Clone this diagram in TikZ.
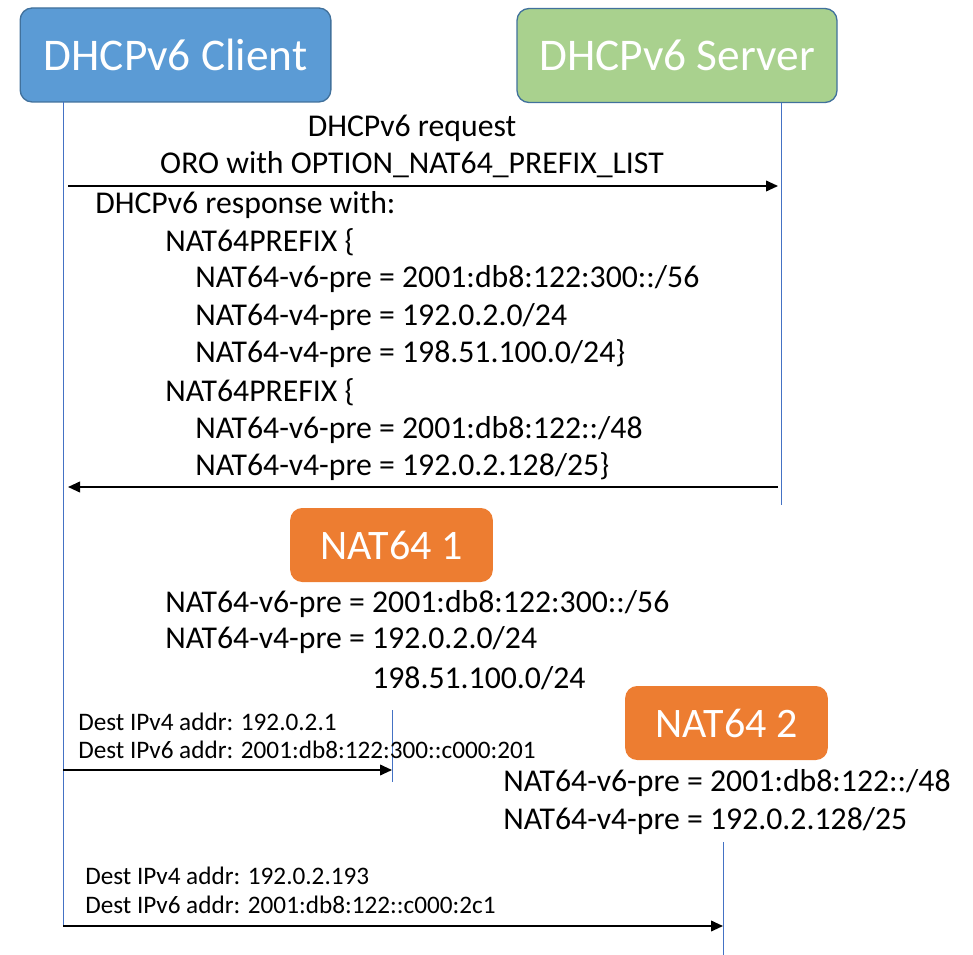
\documentclass[tikz,border=0pt]{standalone}
\usepackage{fontspec}
\setmainfont{Carlito}
\usepackage{xcolor}
\usetikzlibrary{arrows.meta,positioning}

\definecolor{clientblue}{HTML}{5B9BD5}
\definecolor{serverGreen}{HTML}{A9D18E}
\definecolor{natOrange}{HTML}{ED7D31}
\definecolor{edgeBlue}{HTML}{41719C}
\definecolor{lifeBlue}{HTML}{4472C4}

\tikzset{
  actor/.style={rounded corners=9pt, text=white, font=\fontsize{34}{40}\selectfont,
    inner sep=0pt, minimum height=70.5pt},
  natbox/.style={actor, fill=natOrange, draw=none, minimum width=152pt, minimum height=55.5pt,
    font=\fontsize{31.5}{38}\selectfont},
  msg/.style={anchor=west, inner sep=0pt, font=\fontsize{23.8}{28}\selectfont},
  note/.style={anchor=west, inner sep=0pt, font=\fontsize{18.9}{22}\selectfont},
  life/.style={lifeBlue, line width=0.6pt},
  call/.style={-{Triangle[length=9pt,width=8pt]}, line width=1.3pt}
}

\begin{document}
\begin{tikzpicture}[x=0.75pt, y=-0.75pt]
\useasboundingbox (0,0) rectangle (973,955);

% actors
\node[actor, fill=clientblue, draw=edgeBlue, line width=1pt, minimum width=233pt] (client) at (175.5,55) {DHCPv6 Client};
\node[actor, fill=serverGreen, draw=edgeBlue, line width=1pt, minimum width=240pt] (server) at (677,55.5) {DHCPv6 Server};

% lifelines
\coordinate (cTop) at (63,102);
\coordinate (cBot) at (63,926);
\coordinate (sTop) at (781,103);
\coordinate (sBot) at (781,505);
\draw[life] (cTop) -- (cBot);
\draw[life] (sTop) -- (sBot);

% request
\node[msg, anchor=center] (req1) at (412,128) {DHCPv6 request};
\node[msg, anchor=center] (req2) at (412,165) {ORO with OPTION\_NAT64\_PREFIX\_LIST};
\coordinate (reqA) at (68,186);
\coordinate (reqB) at (778,186);
\draw[call] (reqA) -- (reqB);

% response
\node[msg] (rsp0) at (95,205) {DHCPv6 response with:};
\node[msg] (rsp1) at (165,242) {NAT64PREFIX \{};
\node[msg] (rsp2) at (195,279) {NAT64-v6-pre = 2001:db8:122:300::/56};
\node[msg] (rsp3) at (195,317) {NAT64-v4-pre = 192.0.2.0/24};
\node[msg] (rsp4) at (195,354) {NAT64-v4-pre = 198.51.100.0/24\}};
\node[msg] (rsp5) at (165,392) {NAT64PREFIX \{};
\node[msg] (rsp6) at (195,430) {NAT64-v6-pre = 2001:db8:122::/48};
\node[msg] (rsp7) at (195,467) {NAT64-v4-pre = 192.0.2.128/25\}};
\coordinate (rspA) at (778,487);
\coordinate (rspB) at (68,487);
\draw[call] (rspA) -- (rspB);

% NAT64 1
\node[natbox] (nat1) at (391.5,545) {NAT64 1};
\node[msg] (n1v6) at (165,604) {NAT64-v6-pre = 2001:db8:122:300::/56};
\node[msg] (n1v4) at (165,640) {NAT64-v4-pre = 192.0.2.0/24};
\node[msg] (n1v4b) at (372,678) {198.51.100.0/24};
\coordinate (n1Top) at (392,710);
\coordinate (n1Bot) at (392,782);
\draw[life] (n1Top) -- (n1Bot);

\node[note] (d1v4) at (78,722) {Dest IPv4 addr: 192.0.2.1};
\node[note] (d1v6) at (78,750) {Dest IPv6 addr: 2001:db8:122:300::c000:201};
\coordinate (c1) at (63,770);
\coordinate (t1) at (392,770);
\draw[call] (c1) -- (t1);

% NAT64 2
\node[natbox] (nat2) at (726.5,723) {NAT64 2};
\node[msg] (n2v6) at (503,783) {NAT64-v6-pre = 2001:db8:122::/48};
\node[msg] (n2v4) at (503,821) {NAT64-v4-pre = 192.0.2.128/25};
\coordinate (n2Top) at (723,842);
\coordinate (n2Bot) at (723,955);
\draw[life] (n2Top) -- (n2Bot);

\node[note] (d2v4) at (85,876) {Dest IPv4 addr: 192.0.2.193};
\node[note] (d2v6) at (85,905) {Dest IPv6 addr: 2001:db8:122::c000:2c1};
\coordinate (c2) at (63,926);
\coordinate (t2) at (723,926);
\draw[call] (c2) -- (t2);
\end{tikzpicture}
\end{document}
